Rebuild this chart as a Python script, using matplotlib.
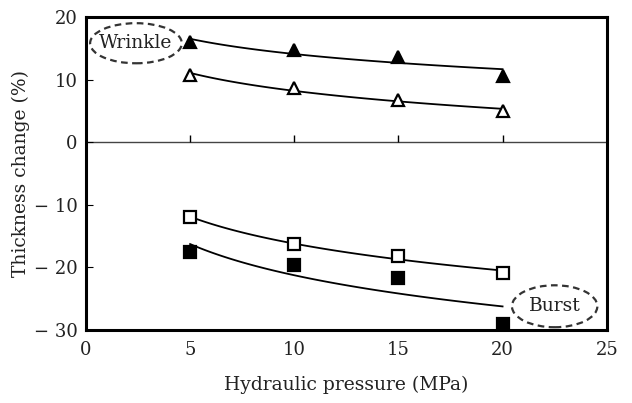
import numpy as np
from matplotlib import pyplot as plt
from matplotlib.patches import Ellipse

pressure = [5, 10, 15, 20]
wrinkle_filled = [16.0, 14.7, 13.6, 10.6]
wrinkle_open = [10.8, 8.6, 6.8, 4.9]
burst_open = [-12.0, -16.2, -18.2, -20.9]
burst_filled = [-17.6, -19.6, -21.7, -29.0]

xticks = [0, 5, 10, 15, 20, 25]
yticks = [20, 10, 0, -10, -20, -30]
ylabels = ['20', '10', '0', '\u2212 10', '\u2212 20', '\u2212 30']


def log_fit(x, y):
    b, a = np.polyfit(np.log(x), y, 1)
    xs = np.linspace(min(x), max(x), 100)
    return xs, a + b * np.log(xs)


def main():
    plt.rcParams['font.family'] = ['DejaVu Serif']
    fig = plt.figure(figsize=(6.32, 4.03), dpi=100)
    ax = fig.add_axes([0.136, 0.181, 0.824, 0.777])

    series = [
        (wrinkle_filled, '^', 'k'),
        (wrinkle_open, '^', 'white'),
        (burst_open, 's', 'white'),
        (burst_filled, 's', 'k'),
    ]
    for y, m, fc in series:
        xs, ys = log_fit(pressure, y)
        ax.plot(xs, ys, color='k', lw=1.3, zorder=2)
        ax.plot(pressure, y, ls='none', marker=m, ms=9 if m == '^' else 8.5,
                mfc=fc, mec='k', mew=1.6, zorder=3, clip_on=False)

    ax.axhline(0, color='#444444', lw=1.0, zorder=1)
    # small upward ticks on the zero line
    ax.plot(xticks[1:-1], [0] * 4, ls='none', marker=2, ms=5, color='k', mew=1)

    ax.add_patch(Ellipse((2.4, 15.8), 4.4, 6.4, fill=False, ls=(0, (3, 2)), lw=1.6, color='#333333'))
    ax.text(2.4, 15.8, 'Wrinkle', ha='center', va='center', fontsize=13.5, color='#222222')
    ax.add_patch(Ellipse((22.5, -26.2), 4.1, 6.7, fill=False, ls=(0, (3, 2)), lw=1.6, color='#333333'))
    ax.text(22.5, -26.2, 'Burst', ha='center', va='center', fontsize=13.5, color='#222222')

    ax.set_xlim(0, 25)
    ax.set_ylim(-30, 20)
    ax.set_xticks(xticks)
    ax.set_yticks(yticks)
    ax.set_yticklabels(ylabels)
    ax.tick_params(axis='x', length=0, pad=8, labelsize=13, labelcolor='#222222')
    ax.tick_params(axis='y', direction='in', length=5, pad=6, labelsize=13, labelcolor='#222222')
    for s in ax.spines.values():
        s.set_linewidth(2.2)

    ax.set_xlabel('Hydraulic pressure (MPa)', fontsize=13.5, labelpad=12, color='#222222')
    ax.set_ylabel('Thickness change (%)', fontsize=13.5, labelpad=3, color='#222222')

    fig.savefig('out.png', dpi=100)


if __name__ == '__main__':
    main()
